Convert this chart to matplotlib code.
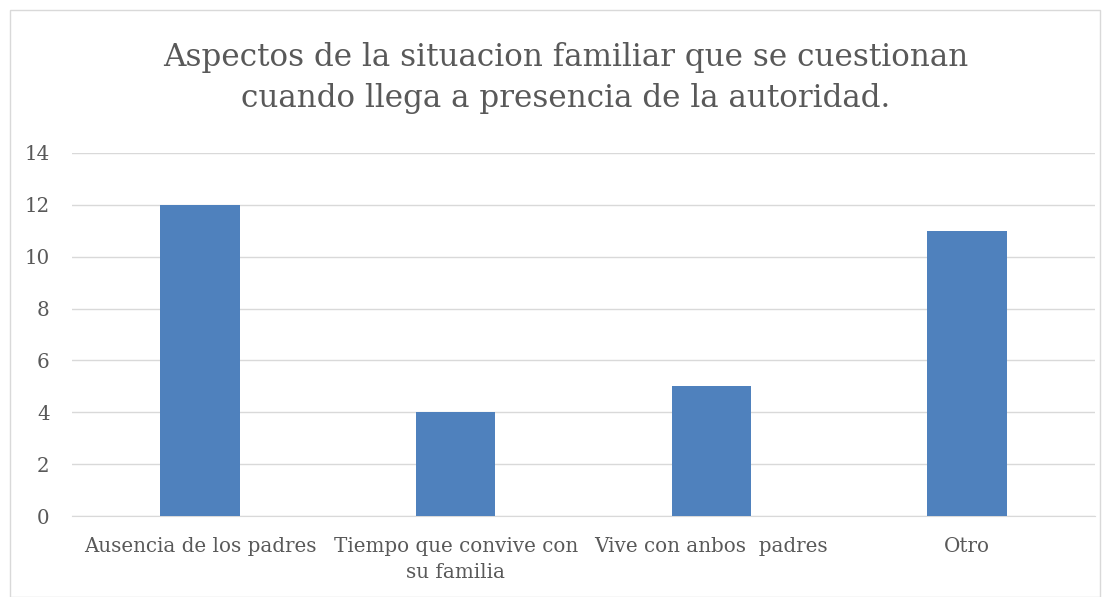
import matplotlib
matplotlib.use("Agg")
import matplotlib.pyplot as plt
from matplotlib.patches import Rectangle

categories = ["Ausencia de los padres", "Tiempo que convive con\nsu familia",
              "Vive con anbos  padres", "Otro"]
values = [12, 4, 5, 11]
yticks = [0, 2, 4, 6, 8, 10, 12, 14]
title = "Aspectos de la situacion familiar que se cuestionan\ncuando llega a presencia de la autoridad."

TEXT = "#595959"
GRID = "#d9d9d9"
BAR = "#4f81bd"

plt.rcParams["font.family"] = ["DejaVu Serif"]

fig = plt.figure(figsize=(11.08, 5.97), dpi=100)
fig.patches.append(Rectangle((10 / 1108, 0), 1090 / 1108, 587 / 597, transform=fig.transFigure,
                             fill=False, edgecolor=GRID, linewidth=1))
ax = fig.add_axes([72 / 1108, (597 - 516) / 597, (1095 - 72) / 1108, (516 - 153) / 597])

x = range(len(categories))
ax.bar(x, values, width=0.31, color=BAR, zorder=3)
ax.set_xlim(-0.5, len(categories) - 0.5)
ax.set_ylim(0, 14)
ax.set_yticks(yticks)
ax.yaxis.grid(True, color=GRID, linewidth=1, zorder=0)
ax.set_xticks(list(x))
ax.set_xticklabels(categories, fontsize=14.3, color=TEXT, linespacing=1.45)
ax.tick_params(axis="y", labelsize=14.3, labelcolor=TEXT, length=0, pad=16)
ax.tick_params(axis="x", length=0, pad=15)
for side in ("top", "right", "left"):
    ax.spines[side].set_visible(False)
ax.spines["bottom"].set_color(GRID)

fig.text(566 / 1108, 1 - 78 / 597, title, ha="center", va="center", fontsize=22.3,
         color=TEXT, linespacing=1.38)

fig.savefig("out.png", dpi=100)
